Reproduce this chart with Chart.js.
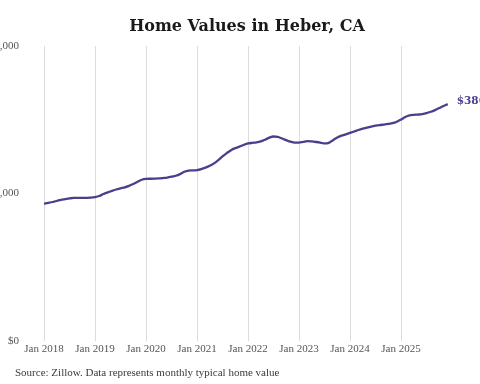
<!DOCTYPE html>
<html>
<head>
<meta charset="utf-8">
<script src="https://cdn.jsdelivr.net/npm/chart.js@4/dist/chart.umd.min.js"></script>
<style>
  html, body { margin: 0; padding: 0; width: 480px; height: 384px; overflow: hidden; background: #fff; }
  #wrap { position: absolute; left: -60px; top: 0; width: 540px; height: 384px; }
  #title { position: absolute; left: 0; top: 16px; width: 494px; text-align: center;
           font: bold 16px "DejaVu Serif", serif; color: #1a1a1a; line-height: 20px; }
  #source { position: absolute; left: 15px; top: 366px; font: 11px "Liberation Serif", serif; color: #3a3a3a; }
</style>
</head>
<body>
<div id="wrap"><canvas id="c" width="540" height="384"></canvas></div>
<div id="title">Home Values in Heber, CA</div>
<div id="source">Source: Zillow. Data represents monthly typical home value</div>
<script>
// Monthly typical home value (thousands of dollars), Jan 2018 .. Dec 2025
const homeValues = [
  232.6, 234.0, 235.6, 237.3, 239.4, 240.5, 241.6, 242.6, 242.7, 242.7, 242.7, 242.9,
  243.9, 245.8, 249.2, 252.0, 254.6, 256.8, 258.8, 260.5, 263.0, 266.0, 269.8, 273.3,
  274.8, 275.0, 275.2, 275.5, 276.2, 277.0, 278.4, 280.1, 282.9, 286.8, 288.9, 289.2,
  289.7, 291.4, 293.9, 297.0, 301.0, 306.6, 312.8, 318.4, 323.5, 326.9, 329.4, 332.4,
  334.8, 335.8, 336.5, 338.2, 341.2, 344.6, 346.6, 345.8, 343.2, 340.4, 337.8, 336.2,
  336.2, 337.5, 338.7, 338.2, 337.3, 336.2, 334.8, 335.8, 340.4, 344.9, 348.0, 350.3,
  352.7, 355.1, 357.6, 359.8, 361.8, 363.5, 364.9, 366.0, 366.9, 367.9, 369.1, 371.6,
  375.3, 379.7, 382.6, 383.4, 383.8, 384.5, 386.1, 388.5, 391.4, 394.8, 398.3, 401.5
];
const yearTickLabels = ['Jan 2018','Jan 2019','Jan 2020','Jan 2021','Jan 2022','Jan 2023','Jan 2024','Jan 2025'];
const yearTickMonths = [0, 12, 24, 36, 48, 60, 72, 84];
const yTickValues = [0, 250000, 500000];
const endLabel = '$386,000';

const points = homeValues.map((v, i) => ({ x: i, y: v * 1000 }));

const endLabelPlugin = {
  id: 'endLabel',
  afterDatasetsDraw(chart) {
    const meta = chart.getDatasetMeta(0);
    const last = meta.data[meta.data.length - 1];
    const ctx = chart.ctx;
    ctx.save();
    ctx.font = 'bold 10.5px "DejaVu Serif", serif';
    ctx.fillStyle = '#4a3f8c';
    ctx.textAlign = 'left';
    ctx.textBaseline = 'middle';
    ctx.fillText(endLabel, last.x + 9, last.y - 3);
    ctx.restore();
  }
};

new Chart(document.getElementById('c'), {
  type: 'line',
  data: {
    datasets: [{
      data: points,
      borderColor: '#4a3f8c',
      borderWidth: 2.3,
      pointRadius: 0,
      tension: 0.4,
      cubicInterpolationMode: 'monotone',
      fill: false
    }]
  },
  options: {
    responsive: false,
    animation: false,
    layout: { padding: { top: 46, right: 28, left: 0, bottom: 0 } },
    plugins: { legend: { display: false }, tooltip: { enabled: false }, title: { display: false } },
    scales: {
      x: {
        type: 'linear',
        min: 0,
        max: 96,
        afterBuildTicks(scale) { scale.ticks = yearTickMonths.map(v => ({ value: v })); },
        afterFit(scale) { scale.height = 43; },
        ticks: {
          autoSkip: false,
          maxRotation: 0,
          padding: 2,
          color: '#555',
          font: { family: '"Liberation Serif", serif', size: 11 },
          callback(value) { const k = yearTickMonths.indexOf(value); return k >= 0 ? yearTickLabels[k] : ''; }
        },
        grid: { color: '#dcdcdc', lineWidth: 1, drawTicks: false },
        border: { display: false }
      },
      y: {
        min: 0,
        max: 500000,
        afterBuildTicks(scale) { scale.ticks = yTickValues.map(v => ({ value: v })); },
        afterFit(scale) { scale.width = 104; },
        ticks: {
          padding: 17,
          color: '#555',
          font: { family: '"Liberation Serif", serif', size: 11 },
          callback(value) { return '$' + value.toLocaleString('en-US'); }
        },
        grid: { display: false },
        border: { display: false }
      }
    }
  },
  plugins: [endLabelPlugin]
});
</script>
</body>
</html>
